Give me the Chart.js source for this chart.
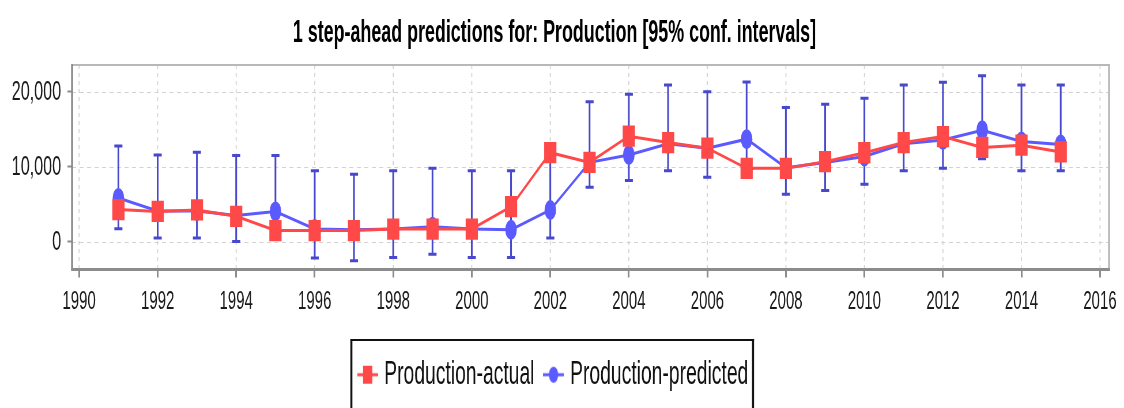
<!DOCTYPE html>
<html lang="en">
<head>
<meta charset="UTF-8">
<title>1 step-ahead predictions for: Production</title>
<script src="https://cdn.jsdelivr.net/npm/chart.js"></script>
<style>
  html, body { margin: 0; padding: 0; background: white; }
  canvas { display: block; }
</style>
</head>
<body>
<!-- the original export is squeezed sideways, so draw wide and show it narrow -->
<canvas id="predChart" width="1950" height="408" style="width:1124px;height:408px"></canvas>
<script>
const years = [1991, 1992, 1993, 1994, 1995, 1996, 1997, 1998, 1999, 2000, 2001, 2002, 2003,
               2004, 2005, 2006, 2007, 2008, 2009, 2010, 2011, 2012, 2013, 2014, 2015];
const actual = [4300, 4050, 4250, 3400, 1500, 1500, 1500, 1700, 1700, 1700, 4700, 11900, 10600,
                14100, 13250, 12500, 9800, 9800, 10700, 11900, 13250, 14050, 12600, 12900, 12000];
const predicted = [5850, 4100, 4100, 3500, 4050, 1700, 1600, 1700, 2000, 1700, 1600, 4250, 10600,
                   11600, 13100, 12500, 13700, 9900, 10600, 11400, 13100, 13600, 14900, 13400, 13000];
const lower = [1730, 490, 490, 40, 500, -2180, -2530, -2090, -1650, -2090, -2090, 490, 7290,
               8180, 9470, 8620, 10000, 6360, 6840, 7690, 9470, 9820, 11100, 9470, 9470];
const upper = [12800, 11600, 11960, 11510, 11510, 9470, 9020, 9470, 9820, 9470, 9470, 12000, 18710,
               19690, 20930, 20040, 21330, 17910, 18360, 19160, 20930, 21290, 22180, 20930, 20930];
const yearTicks = [1990, 1992, 1994, 1996, 1998, 2000, 2002, 2004, 2006, 2008, 2010, 2012, 2014, 2016];
const valueTicks = [0, 10000, 20000];

const FONT = "'Liberation Sans', Arial, sans-serif";
const RED = 'rgb(255,72,72)';
const BLUE = 'rgb(90,90,255)';
const BAR = 'rgb(72,72,205)';

Chart.defaults.font.family = FONT;

function legendIcon(color, shape) {
    const c = document.createElement('canvas');
    c.width = 36;
    c.height = 26;
    const g = c.getContext('2d');
    g.strokeStyle = color;
    g.fillStyle = color;
    g.lineWidth = 3;
    g.beginPath();
    g.moveTo(0, 13);
    g.lineTo(36, 13);
    g.stroke();
    if (shape === 'rect') {
        g.fillRect(10, 4, 16, 18);
    } else {
        g.beginPath();
        g.arc(18, 13, 8, 0, Math.PI * 2);
        g.fill();
    }
    return c;
}
const icons = [legendIcon(RED, 'rect'), legendIcon(BLUE, 'circle')];

const toPoints = vals => years.map((yr, i) => ({ x: yr, y: vals[i] }));

const framePlugin = {
    id: 'frame',
    beforeDraw(chart) {
        const c = chart.ctx;
        c.save();
        c.fillStyle = 'white';
        c.fillRect(0, 0, chart.width, chart.height);
        c.restore();
    },
    beforeDatasetsDraw(chart) {
        const c = chart.ctx;
        const a = chart.chartArea;
        const xs = chart.scales.x, ys = chart.scales.y;
        c.save();
        // dashed grid
        c.strokeStyle = '#d2d2d2';
        c.lineWidth = 1;
        c.setLineDash([7, 6]);
        valueTicks.forEach(v => {
            const y = Math.round(ys.getPixelForValue(v)) + 0.5;
            c.beginPath(); c.moveTo(a.left, y); c.lineTo(a.right, y); c.stroke();
        });
        c.lineWidth = 1.7;
        c.setLineDash([4, 4]);
        yearTicks.forEach(v => {
            const x = xs.getPixelForValue(v);
            c.beginPath(); c.moveTo(x, a.top); c.lineTo(x, a.bottom); c.stroke();
        });
        // confidence intervals
        c.setLineDash([]);
        c.strokeStyle = BAR;
        c.lineWidth = 3;
        years.forEach((yr, i) => {
            const x = xs.getPixelForValue(yr);
            const y0 = ys.getPixelForValue(lower[i]);
            const y1 = ys.getPixelForValue(upper[i]);
            c.beginPath();
            c.moveTo(x, y0); c.lineTo(x, y1);
            c.moveTo(x - 7, y0); c.lineTo(x + 7, y0);
            c.moveTo(x - 7, y1); c.lineTo(x + 7, y1);
            c.stroke();
        });
        c.restore();
    },
    afterDatasetsDraw(chart) {
        const c = chart.ctx;
        const a = chart.chartArea;
        c.save();
        c.fillStyle = '#b8b8b8';
        c.fillRect(a.left, a.top - 1, a.right - a.left, 2);
        c.fillRect(a.right - 1.7, a.top - 1, 3.5, a.bottom - a.top);
        c.fillStyle = '#8c8c8c';
        c.fillRect(a.left - 1.7, a.top - 1, 3.5, a.bottom - a.top + 1);
        c.fillRect(a.left - 1.7, a.bottom - 1.5, a.right - a.left + 3.4, 3);
        c.restore();
    },
    afterDraw(chart) {
        const hb = chart.legend.legendHitBoxes;
        if (!hb || !hb.length) return;
        const c = chart.ctx;
        const x0 = hb[0].left - 18;
        const last = hb[hb.length - 1];
        const x1 = last.left + last.width + 10;
        c.save();
        c.fillStyle = '#111';
        c.fillRect(x0, 339, x1 - x0, 2);
        c.fillRect(x0, 339, 3.5, 80);
        c.fillRect(x1 - 3.5, 339, 3.5, 80);
        c.restore();
    }
};

const ctx = document.getElementById('predChart').getContext('2d');
const predChart = new Chart(ctx, {
    type: 'line',
    data: {
        datasets: [{
            label: 'Production-actual',
            data: toPoints(actual),
            borderColor: RED,
            backgroundColor: RED,
            borderWidth: 3,
            pointStyle: 'rect',
            pointRadius: 15,
            pointHoverRadius: 15,
            pointBorderWidth: 0
        }, {
            label: 'Production-predicted',
            data: toPoints(predicted),
            borderColor: BLUE,
            backgroundColor: BLUE,
            borderWidth: 3,
            pointStyle: 'circle',
            pointRadius: 10,
            pointHoverRadius: 10,
            pointBorderWidth: 0
        }]
    },
    options: {
        responsive: false,
        devicePixelRatio: 1,
        animation: false,
        layout: { padding: { left: 0, right: 26, top: 0, bottom: 6.5 } },
        scales: {
            x: {
                type: 'linear',
                min: 1989.82,
                max: 2016.23,
                afterBuildTicks: s => { s.ticks = yearTicks.map(v => ({ value: v })); },
                afterFit: s => { s.height = 67.5; },
                grid: { drawOnChartArea: false, color: 'transparent', tickColor: '#8c8c8c', tickLength: 8, tickWidth: 3 },
                border: { display: false },
                ticks: {
                    padding: 9,
                    color: '#1a1a1a',
                    font: { size: 26 },
                    maxRotation: 0,
                    autoSkip: false,
                    callback: v => String(v)
                }
            },
            y: {
                min: -3700,
                max: 23600,
                afterBuildTicks: s => { s.ticks = valueTicks.map(v => ({ value: v })); },
                afterFit: s => { s.width = 125; },
                grid: { drawOnChartArea: false, color: 'transparent', tickColor: '#8c8c8c', tickLength: 8, tickWidth: 2 },
                border: { display: false },
                ticks: {
                    padding: 11,
                    color: '#1a1a1a',
                    font: { size: 28 },
                    callback: v => v.toLocaleString('en-US')
                }
            }
        },
        plugins: {
            title: {
                display: true,
                text: '1 step-ahead predictions for: Production [95% conf. intervals]',
                color: '#000',
                font: { size: 31, weight: 'bold' },
                padding: { top: 15, bottom: 12.8 }
            },
            legend: {
                position: 'bottom',
                labels: {
                    usePointStyle: true,
                    pointStyleWidth: 24,
                    padding: 21,
                    color: '#111',
                    font: { size: 33.5 },
                    generateLabels: chart => {
                        const items = Chart.defaults.plugins.legend.labels.generateLabels(chart);
                        items.forEach((it, i) => { it.pointStyle = icons[i]; });
                        return items;
                    }
                }
            },
            tooltip: { enabled: false }
        }
    },
    plugins: [framePlugin]
});
</script>
</body>
</html>
